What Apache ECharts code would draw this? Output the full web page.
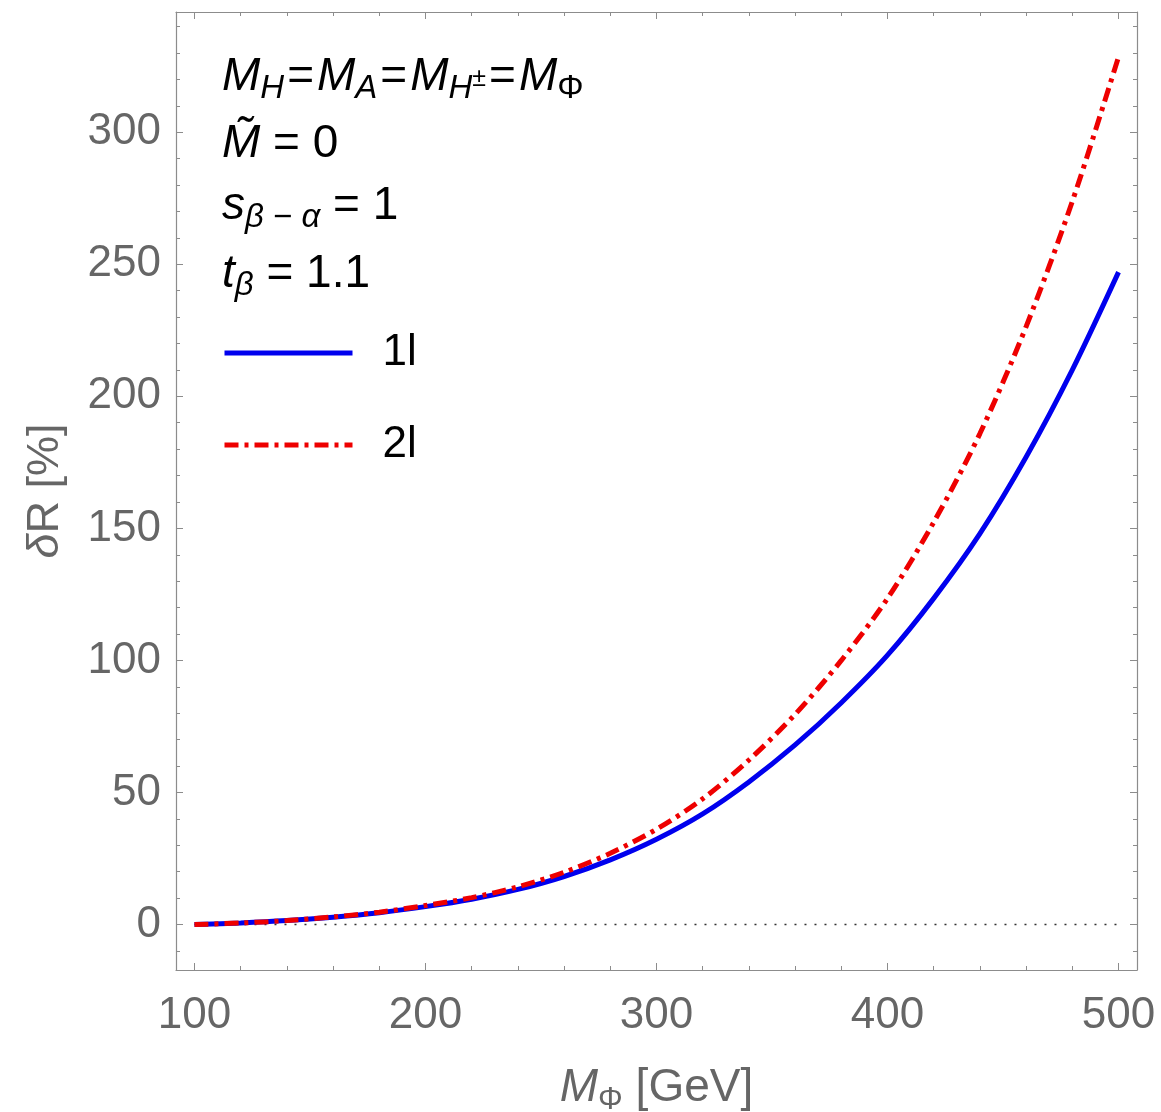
<!DOCTYPE html>
<html>
<head>
<meta charset="utf-8">
<script src="https://cdn.jsdelivr.net/npm/echarts@6/dist/echarts.min.js"></script>
<style>
html,body{margin:0;padding:0;background:#fff;}
#chart{width:1161px;height:1112px;}
</style>
</head>
<body>
<div id="chart"></div>
<script>
// ---- data ----
const massGeV = [100,120,140,160,180,200,220,240,260,280,300,320,340,360,380,400,420,440,460,480,500];
const delta1l = [0,0.6,1.5,2.8,4.5,6.8,9.6,13.3,18.2,24.5,32.3,41.9,54,68,84,102,123.5,148,177,210,247];
const delta2l = [0,0.6,1.5,2.9,4.7,7.2,10.2,14.3,19.8,27.0,36.1,47.6,62.3,79.6,100,123.5,152.3,185.9,226.4,273.8,328.5];
const zeroLine = [[100,0],[500,0]];
const xMajorTicks = [100,200,300,400,500];
const xMinorTicks = [120,140,160,180,220,240,260,280,320,340,360,380,420,440,460,480];
const yMajorTicks = [0,50,100,150,200,250,300];
const yMinorTicks = [-10,10,20,30,40,60,70,80,90,110,120,130,140,160,170,180,190,210,220,230,240,260,270,280,290,310,320,330,340];
const seriesNames = ['1l','2l'];

const FONT = 'Liberation Sans';
const X_MIN = 92, X_MAX = 508, Y_MIN = -17.2, Y_MAX = 345.5;
const frameColor = '#8c8c8c';
const labelColor = '#666666';

function xAx(pos, ticks, len, labels, line) {
  return {
    type: 'value', position: pos, min: X_MIN, max: X_MAX,
    axisLine: { show: line, onZero: false, lineStyle: { color: frameColor, width: 1.2 } },
    axisTick: { show: true, inside: true, length: len, customValues: ticks, lineStyle: { color: frameColor, width: 1 } },
    axisLabel: labels ? { show: true, customValues: ticks, margin: 24, color: labelColor, fontSize: 44, fontFamily: FONT } : { show: false },
    splitLine: { show: false }
  };
}
function yAx(pos, ticks, len, labels, line) {
  return {
    type: 'value', position: pos, min: Y_MIN, max: Y_MAX,
    axisLine: { show: line, onZero: false, lineStyle: { color: frameColor, width: 1.2 } },
    axisTick: { show: true, inside: true, length: len, customValues: ticks, lineStyle: { color: frameColor, width: 1 } },
    axisLabel: labels ? { show: true, customValues: ticks, margin: 15, color: labelColor, fontSize: 44, fontFamily: FONT } : { show: false },
    splitLine: { show: false }
  };
}

const xAxes = [
  xAx('bottom', xMajorTicks, 7, true, true),
  xAx('bottom', xMinorTicks, 4, false, false),
  xAx('top', xMajorTicks, 7, false, true),
  xAx('top', xMinorTicks, 4, false, false)
];
Object.assign(xAxes[0], {
  name: '{m|M}{s|Φ}{n| [GeV]}', nameLocation: 'middle', nameGap: 95,
  nameTextStyle: { color: labelColor, fontFamily: FONT, rich: {
    m: { fontSize: 46, fontStyle: 'italic', color: labelColor, lineHeight: 46, verticalAlign: 'top', fontFamily: FONT },
    n: { fontSize: 46, color: labelColor, lineHeight: 46, verticalAlign: 'top', fontFamily: FONT },
    s: { fontSize: 31, color: labelColor, lineHeight: 51, verticalAlign: 'bottom', fontFamily: FONT }
  } }
});
const yAxes = [
  yAx('left', yMajorTicks, 7, true, true),
  yAx('left', yMinorTicks, 4, false, false),
  yAx('right', yMajorTicks, 7, false, true),
  yAx('right', yMinorTicks, 4, false, false)
];
Object.assign(yAxes[0], {
  name: '{i|δ}{n|R [%]}', nameLocation: 'middle', nameGap: 108, nameRotate: 90,
  nameTextStyle: { color: labelColor, fontFamily: FONT, rich: {
    i: { fontSize: 45, fontStyle: 'italic', color: labelColor, fontFamily: FONT },
    n: { fontSize: 45, color: labelColor, fontFamily: FONT }
  } }
});

const richParams = {
  m: { fontSize: 46, fontStyle: 'italic', lineHeight: 46, verticalAlign: 'top', fontFamily: FONT, fill: '#000' },
  n: { fontSize: 46, lineHeight: 46, verticalAlign: 'top', fontFamily: FONT, fill: '#000' },
  eq: { fontSize: 46, lineHeight: 46, verticalAlign: 'top', fontFamily: FONT, fill: '#000', padding: [0, 3, 0, 3] },
  s: { fontSize: 33, fontStyle: 'italic', lineHeight: 51, verticalAlign: 'bottom', fontFamily: FONT, fill: '#000' },
  su: { fontSize: 33, lineHeight: 51, verticalAlign: 'bottom', fontFamily: FONT, fill: '#000' },
  sp: { fontSize: 25, lineHeight: 46, verticalAlign: 'middle', fontFamily: FONT, fill: '#000' }
};
function paramText(y, txt) {
  return { type: 'text', left: 222, top: y, z: 10,
    style: { text: txt, rich: richParams, fontFamily: FONT, fill: '#000' } };
}

const option = {
  animation: false,
  backgroundColor: '#ffffff',
  grid: { left: 176, right: 24, top: 12, bottom: 142, containLabel: false, outerBoundsMode: 'none' },
  xAxis: xAxes,
  yAxis: yAxes,
  legend: {
    orient: 'vertical', left: 222, top: 331, padding: 0,
    itemWidth: 128, itemHeight: 40, itemGap: 48,
    data: seriesNames,
    itemStyle: { opacity: 0 },
    lineStyle: { width: 5 },
    textStyle: { fontSize: 44, color: '#000', fontFamily: FONT, padding: [0, 0, 0, 25] }
  },
  graphic: [
    paramText(54, '{m|M}{s|H}{eq|=}{m|M}{s|A}{eq|=}{m|M}{s|H}{sp|±}{eq|=}{m|M}{su|Φ}'),
    paramText(121, '{m|M\u0303}{n| = 0}'),
    paramText(183, '{m|s}{s|β}{su| − }{s|α}{n| = 1}'),
    paramText(251, '{m|t}{s|β}{n| = 1.1}')
  ],
  series: [
    {
      name: 'zero', type: 'line', data: zeroLine, showSymbol: false, symbol: 'none', silent: true, z: 1,
      lineStyle: { color: '#333', width: 1.5, type: [2, 8] }
    },
    {
      name: seriesNames[0], type: 'line', symbol: 'none', smooth: 0.3, z: 3,
      data: massGeV.map((m, i) => [m, delta1l[i]]),
      lineStyle: { color: '#0000ee', width: 5, type: 'solid' },
      itemStyle: { color: '#0000ee' }
    },
    {
      name: seriesNames[1], type: 'line', symbol: 'none', smooth: 0.3, z: 4,
      data: massGeV.map((m, i) => [m, delta2l[i]]),
      lineStyle: { color: '#ee0000', width: 5, type: [14, 6, 4, 6] },
      itemStyle: { color: '#ee0000' }
    }
  ]
};

const chart = echarts.init(document.getElementById('chart'), null, { renderer: 'canvas' });
chart.setOption(option);
</script>
</body>
</html>
